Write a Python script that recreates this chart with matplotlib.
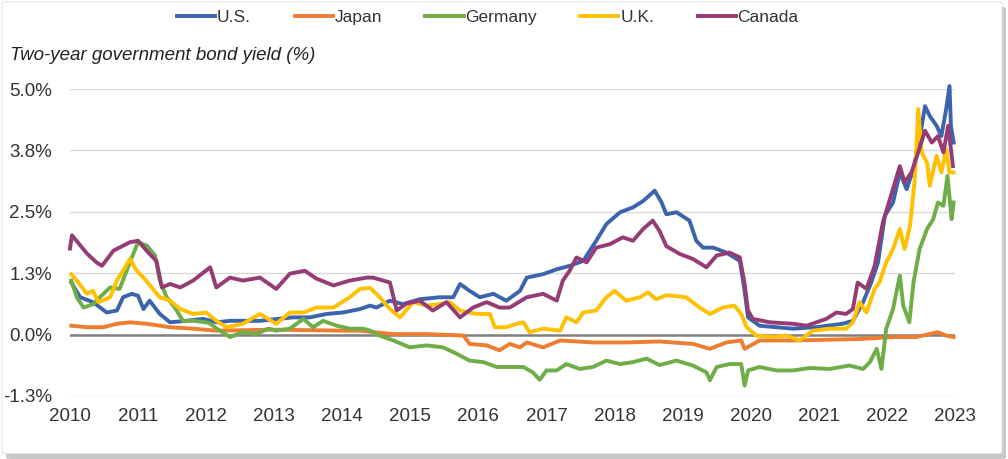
import matplotlib.pyplot as plt
from matplotlib.patches import FancyBboxPatch

plt.rcParams['font.family'] = ['Liberation Sans', 'DejaVu Sans']

# two-year government bond yields (%), x in decimal years
us_x = [2010.02, 2010.15, 2010.34, 2010.54, 2010.69, 2010.78, 2010.91, 2011.0, 2011.08, 2011.17,
        2011.32, 2011.47, 2011.71, 2011.96, 2012.15, 2012.35, 2012.79, 2013.27, 2013.52, 2013.77,
        2014.01, 2014.26, 2014.41, 2014.5, 2014.7, 2014.89, 2015.14, 2015.43, 2015.63, 2015.73,
        2015.87, 2016.02, 2016.22, 2016.41, 2016.61, 2016.71, 2016.95, 2017.15, 2017.34, 2017.54,
        2017.73, 2017.88, 2018.08, 2018.27, 2018.42, 2018.59, 2018.69, 2018.76, 2018.91, 2019.1,
        2019.2, 2019.3, 2019.45, 2019.64, 2019.84, 2019.91, 2019.96, 2020.13, 2020.62, 2020.96,
        2021.35, 2021.5, 2021.65, 2021.77, 2021.87, 2021.97, 2022.09, 2022.19, 2022.29, 2022.39,
        2022.48, 2022.56, 2022.63, 2022.73, 2022.8, 2022.87, 2022.92, 2022.94, 2022.98]
us_y = [1.06, 0.76, 0.66, 0.45, 0.49, 0.76, 0.83, 0.79, 0.52, 0.69,
        0.42, 0.25, 0.28, 0.32, 0.25, 0.28, 0.28, 0.35, 0.35, 0.42,
        0.45, 0.52, 0.59, 0.55, 0.69, 0.62, 0.72, 0.76, 0.76, 1.03,
        0.89, 0.76, 0.83, 0.69, 0.89, 1.16, 1.23, 1.33, 1.40, 1.50,
        1.91, 2.25, 2.49, 2.59, 2.72, 2.93, 2.69, 2.45, 2.49, 2.32,
        1.91, 1.77, 1.77, 1.67, 1.50, 0.89, 0.35, 0.18, 0.12, 0.15,
        0.22, 0.28, 0.66, 1.06, 1.47, 2.42, 2.69, 3.30, 2.96, 3.37,
        3.98, 4.65, 4.45, 4.25, 4.04, 4.59, 5.06, 4.25, 3.91]

jp_x = [2010.02, 2010.25, 2010.49, 2010.69, 2010.88, 2011.13, 2011.47, 2011.81, 2012.15, 2013.0,
        2014.0, 2014.26, 2014.75, 2015.24, 2015.78, 2015.87, 2016.12, 2016.31, 2016.46, 2016.61,
        2016.71, 2016.95, 2017.2, 2017.68, 2018.17, 2018.66, 2019.15, 2019.4, 2019.64, 2019.86,
        2019.91, 2020.13, 2020.62, 2020.96, 2021.6, 2022.09, 2022.43, 2022.75, 2022.87, 2022.98]
jp_y = [0.18, 0.15, 0.15, 0.22, 0.25, 0.22, 0.15, 0.12, 0.08, 0.10,
        0.08, 0.08, 0.01, 0.01, -0.02, -0.19, -0.22, -0.32, -0.19, -0.26,
        -0.16, -0.26, -0.12, -0.16, -0.16, -0.14, -0.19, -0.29, -0.16, -0.12,
        -0.29, -0.12, -0.12, -0.11, -0.09, -0.05, -0.05, 0.05, -0.02, -0.05]

de_x = [2010.02, 2010.1, 2010.2, 2010.34, 2010.44, 2010.59, 2010.73, 2010.88, 2011.0, 2011.13,
        2011.25, 2011.32, 2011.42, 2011.54, 2011.66, 2011.81, 2012.0, 2012.06, 2012.2, 2012.35,
        2012.54, 2012.74, 2012.91, 2013.03, 2013.23, 2013.43, 2013.57, 2013.72, 2013.92, 2014.11,
        2014.31, 2014.41, 2014.55, 2014.75, 2014.99, 2015.24, 2015.48, 2015.68, 2015.87, 2016.07,
        2016.27, 2016.46, 2016.66, 2016.8, 2016.9, 2017.0, 2017.15, 2017.29, 2017.49, 2017.68,
        2017.88, 2018.08, 2018.27, 2018.47, 2018.66, 2018.91, 2019.15, 2019.35, 2019.4, 2019.5,
        2019.69, 2019.86, 2019.91, 2019.96, 2020.13, 2020.38, 2020.62, 2020.87, 2021.16, 2021.45,
        2021.65, 2021.75, 2021.85, 2021.92, 2021.99, 2022.09, 2022.19, 2022.24, 2022.33, 2022.39,
        2022.48, 2022.59, 2022.68, 2022.75, 2022.83, 2022.89, 2022.95, 2022.98]
de_y = [1.10, 0.76, 0.55, 0.62, 0.76, 0.96, 0.93, 1.47, 1.88, 1.81,
        1.61, 1.10, 0.76, 0.55, 0.28, 0.28, 0.25, 0.22, 0.08, -0.05,
        0.05, 0.01, 0.12, 0.08, 0.12, 0.32, 0.15, 0.28, 0.18, 0.12,
        0.12, 0.08, -0.02, -0.12, -0.26, -0.22, -0.26, -0.39, -0.53, -0.56,
        -0.66, -0.66, -0.66, -0.77, -0.92, -0.73, -0.73, -0.60, -0.70, -0.66,
        -0.53, -0.60, -0.56, -0.49, -0.62, -0.53, -0.63, -0.77, -0.93, -0.66,
        -0.60, -0.60, -1.04, -0.73, -0.66, -0.73, -0.73, -0.68, -0.70, -0.63,
        -0.70, -0.56, -0.29, -0.70, 0.12, 0.52, 1.20, 0.59, 0.25, 1.06,
        1.74, 2.15, 2.35, 2.69, 2.62, 3.23, 2.35, 2.69]

uk_x = [2010.02, 2010.1, 2010.25, 2010.34, 2010.42, 2010.59, 2010.69, 2010.81, 2010.88, 2010.98,
        2011.08, 2011.2, 2011.32, 2011.47, 2011.62, 2011.81, 2012.0, 2012.15, 2012.3, 2012.54,
        2012.79, 2013.03, 2013.23, 2013.43, 2013.62, 2013.87, 2014.11, 2014.26, 2014.41, 2014.55,
        2014.7, 2014.85, 2015.04, 2015.24, 2015.43, 2015.58, 2015.73, 2015.97, 2016.17, 2016.24,
        2016.41, 2016.56, 2016.66, 2016.75, 2016.95, 2017.2, 2017.29, 2017.44, 2017.54, 2017.73,
        2017.88, 2018.0, 2018.17, 2018.37, 2018.49, 2018.61, 2018.76, 2018.86, 2019.05, 2019.25,
        2019.4, 2019.59, 2019.76, 2019.86, 2019.94, 2020.08, 2020.33, 2020.52, 2020.72, 2020.91,
        2021.16, 2021.4, 2021.5, 2021.6, 2021.7, 2021.82, 2021.89, 2021.99, 2022.09, 2022.19,
        2022.26, 2022.34, 2022.41, 2022.46, 2022.51, 2022.59, 2022.63, 2022.73, 2022.8, 2022.87,
        2022.92, 2022.98]
uk_y = [1.23, 1.10, 0.83, 0.89, 0.66, 0.76, 1.10, 1.37, 1.54, 1.30,
        1.16, 0.96, 0.76, 0.69, 0.52, 0.42, 0.45, 0.28, 0.15, 0.22,
        0.42, 0.22, 0.45, 0.45, 0.55, 0.55, 0.76, 0.93, 0.95, 0.76,
        0.52, 0.35, 0.66, 0.59, 0.62, 0.66, 0.49, 0.42, 0.42, 0.15,
        0.15, 0.22, 0.25, 0.05, 0.12, 0.08, 0.35, 0.25, 0.45, 0.49,
        0.76, 0.89, 0.69, 0.76, 0.86, 0.72, 0.80, 0.79, 0.76, 0.55,
        0.42, 0.55, 0.59, 0.42, 0.15, -0.02, -0.05, -0.02, -0.12, 0.08,
        0.12, 0.12, 0.25, 0.66, 0.45, 0.93, 1.06, 1.47, 1.74, 2.15,
        1.74, 2.22, 3.16, 4.59, 3.71, 3.50, 3.03, 3.64, 3.30, 3.77,
        3.30, 3.30]

ca_x = [2010.0, 2010.03, 2010.25, 2010.39, 2010.47, 2010.64, 2010.88, 2011.0, 2011.15, 2011.27,
        2011.35, 2011.47, 2011.62, 2011.81, 2012.06, 2012.15, 2012.35, 2012.54, 2012.79, 2013.03,
        2013.23, 2013.45, 2013.62, 2013.87, 2014.11, 2014.36, 2014.45, 2014.7, 2014.8, 2014.94,
        2015.14, 2015.33, 2015.53, 2015.73, 2015.92, 2016.12, 2016.31, 2016.46, 2016.71, 2016.95,
        2017.15, 2017.24, 2017.34, 2017.44, 2017.59, 2017.73, 2017.93, 2018.12, 2018.27, 2018.42,
        2018.56, 2018.66, 2018.76, 2018.96, 2019.15, 2019.35, 2019.5, 2019.69, 2019.84, 2019.91,
        2019.96, 2020.03, 2020.28, 2020.62, 2020.82, 2021.11, 2021.26, 2021.4, 2021.5, 2021.57,
        2021.7, 2021.82, 2021.94, 2022.06, 2022.19, 2022.26, 2022.36, 2022.46, 2022.56, 2022.66,
        2022.75, 2022.83, 2022.9, 2022.97]
ca_y = [1.75, 2.02, 1.65, 1.47, 1.40, 1.71, 1.88, 1.91, 1.67, 1.50,
        0.96, 1.03, 0.96, 1.10, 1.37, 0.96, 1.16, 1.10, 1.16, 0.93,
        1.24, 1.30, 1.14, 1.00, 1.10, 1.16, 1.16, 1.06, 0.49, 0.63,
        0.69, 0.49, 0.66, 0.35, 0.55, 0.66, 0.55, 0.55, 0.76, 0.83,
        0.69, 1.10, 1.30, 1.57, 1.47, 1.77, 1.84, 1.98, 1.91, 2.15,
        2.32, 2.11, 1.80, 1.64, 1.54, 1.37, 1.61, 1.67, 1.57, 1.03,
        0.49, 0.32, 0.25, 0.22, 0.18, 0.32, 0.45, 0.42, 0.52, 1.06,
        0.93, 1.40, 2.28, 2.83, 3.43, 3.10, 3.30, 3.71, 4.15, 3.91,
        4.04, 3.71, 4.25, 3.43]

series = [
    ('U.S.', us_x, us_y, '#3c64ad'),
    ('Japan', jp_x, jp_y, '#ed7d31'),
    ('Germany', de_x, de_y, '#6fad47'),
    ('U.K.', uk_x, uk_y, '#ffc000'),
    ('Canada', ca_x, ca_y, '#963c74'),
]
years = list(range(2010, 2024))
y_ticks = [-1.25, 0.0, 1.25, 2.5, 3.75, 5.0]
y_labels = ['-1.3%', '0.0%', '1.3%', '2.5%', '3.8%', '5.0%']

fig = plt.figure(figsize=(10.08, 4.59), dpi=100)

# card border with a soft shadow
fig.patches.append(FancyBboxPatch((0.006, 0.0), 0.992, 0.985, boxstyle='round,pad=0,rounding_size=0.004',
                                  transform=fig.transFigure, facecolor='#c8c8c8', edgecolor='none', zorder=-3))
fig.patches.append(FancyBboxPatch((0.002, 0.012), 0.992, 0.984, boxstyle='round,pad=0,rounding_size=0.004',
                                  transform=fig.transFigure, facecolor='white', edgecolor='#e4e4e4',
                                  linewidth=0.8, zorder=-2))

ax = fig.add_axes([0.0694, 0.1373, 0.8780, 0.6688])
ax.set_facecolor('none')

for yv in y_ticks:
    if yv == 0:
        ax.axhline(yv, color='#7f7f7f', linewidth=1.8, zorder=1)
    else:
        ax.axhline(yv, color='#d9d9d9', linewidth=1.0, zorder=0)

for name, xs, ys, c in series:
    ax.plot(xs, ys, color=c, linewidth=2.8, label=name, clip_on=False, zorder=3)

ax.set_xlim(2010, 2023)
ax.set_ylim(-1.25, 5.0)
ax.set_xticks(years)
ax.set_xticklabels([str(y) for y in years])
ax.set_yticks(y_ticks)
ax.set_yticklabels(y_labels)
ax.tick_params(length=0, labelsize=13.5, colors='#333333')
ax.tick_params(axis='x', pad=9)
ax.tick_params(axis='y', pad=13)
for s in ax.spines.values():
    s.set_visible(False)

fig.text(0.010, 0.880, 'Two-year government bond yield (%)', fontsize=13.5, style='italic',
         color='#222222', va='center', ha='left')

leg = fig.legend(loc='center', bbox_to_anchor=(0.484, 0.962), ncol=5, frameon=False,
                 fontsize=12.5, handlelength=2.2, handletextpad=0.1, columnspacing=2.5)
for t in leg.get_texts():
    t.set_color('#333333')
for h in leg.get_lines():
    h.set_linewidth(2.8)

fig.savefig('out.png', dpi=100)
